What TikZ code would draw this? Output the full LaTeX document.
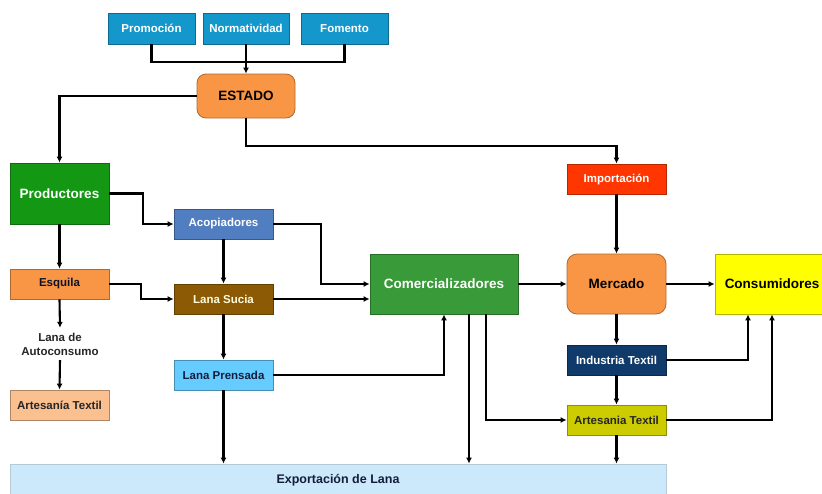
\documentclass[tikz,border=0pt]{standalone}
\usepackage{fontspec}
\setmainfont{Liberation Sans}
\usetikzlibrary{arrows.meta,calc}
\definecolor{cTop}{RGB}{20,152,204}
\definecolor{cOrange}{RGB}{248,150,70}
\definecolor{cProd}{RGB}{20,152,20}
\definecolor{cCom}{RGB}{56,154,56}
\definecolor{cAcop}{RGB}{80,126,192}
\definecolor{cImp}{RGB}{255,54,0}
\definecolor{cSucia}{RGB}{140,90,5}
\definecolor{cPren}{RGB}{102,204,255}
\definecolor{cArtL}{RGB}{250,192,144}
\definecolor{cExpo}{RGB}{204,233,251}
\definecolor{cCons}{RGB}{255,255,0}
\definecolor{cInd}{RGB}{16,58,106}
\definecolor{cArtR}{RGB}{204,204,0}
\definecolor{cNavy}{RGB}{20,30,60}
\tikzset{
  box/.style={draw=#1!70!black, fill=#1, line width=0.8pt, inner sep=0pt,
    font=\fontsize{11.5}{13}\selectfont\bfseries, align=center},
  bigfont/.style={font=\fontsize{13.5}{15}\selectfont\bfseries},
  arr/.style={line width=2.1pt, -{Latex[length=6pt,width=6pt]}},
  ln/.style={line width=2.1pt}
}
\begin{document}
\begin{tikzpicture}[x=1pt,y=-1pt]
\useasboundingbox (0,0) rectangle (822,493);
% nodes
\node[box=cTop, text=white, minimum width=87pt, minimum height=31pt] (promo) at (151.5,28.5) {Promoción};
\node[box=cTop, text=white, minimum width=86pt, minimum height=31pt] (norm) at (246,28.5) {Normatividad};
\node[box=cTop, text=white, minimum width=87pt, minimum height=31pt] (fom) at (344.5,28.5) {Fomento};
\node[box=cOrange, text=black, bigfont, rounded corners=9pt, minimum width=98pt, minimum height=44pt] (estado) at (246,96) {ESTADO};
\node[box=cProd, text=white, bigfont, minimum width=99pt, minimum height=61pt] (prod) at (59.5,193.5) {Productores};
\node[box=cAcop, text=white, minimum width=99pt, minimum height=30pt] (acop) at (223.5,224) {Acopiadores};
\node[box=cImp, text=white, minimum width=99pt, minimum height=30pt] (impo) at (616.5,179) {Importación};
\node[box=cOrange, text=cNavy!60!black, minimum width=99pt, minimum height=30pt] (esq) at (59.5,284) {Esquila};
\node[box=cSucia, text=yellow!15, minimum width=99pt, minimum height=30pt] (sucia) at (223.5,299) {Lana Sucia};
\node[box=cCom, text=white, bigfont, minimum width=148pt, minimum height=60pt] (com) at (444,284) {Comercializadores};
\node[box=cOrange, text=black, bigfont, rounded corners=10pt, minimum width=99pt, minimum height=60pt] (merc) at (616.5,284) {Mercado};
\node[box=cCons, text=black, bigfont, minimum width=114pt, minimum height=60pt] (cons) at (772,284) {Consumidores};
\node[font=\fontsize{11.5}{14}\selectfont\bfseries, text=black!85, align=center, inner sep=0pt, minimum height=32pt] (auto) at (60,344) {Lana de\\Autoconsumo};
\node[box=cArtL, text=black!85, minimum width=99pt, minimum height=30pt] (art1) at (59.5,405) {Artesanía Textil};
\node[box=cPren, text=cNavy, minimum width=99pt, minimum height=30pt] (pren) at (223.5,375) {Lana Prensada};
\node[box=cInd, text=white, minimum width=99pt, minimum height=30pt] (ind) at (616.5,360) {Industria Textil};
\node[box=cArtR, text=black!85, minimum width=99pt, minimum height=30pt] (art2) at (616.5,420) {Artesania Textil};
\node[box=cExpo, draw=cExpo!70!gray, text=cNavy, font=\fontsize{12.5}{14}\selectfont\bfseries, minimum width=656pt, minimum height=36pt] (expo) at (338,482) {};
\node[text=cNavy, font=\fontsize{12.5}{14}\selectfont\bfseries, inner sep=0pt] (expot) at (338,480) {Exportación de Lana};
% connectors
\coordinate (jn) at (246,62);
\draw[ln] (promo.south) |- (jn) -| (fom.south);
\draw[arr] (norm.south) -- (estado.north);
\draw[arr] (estado.west) -| (prod.north);
\draw[arr] (estado.south) -- ++(0,28) -| (impo.north);
\draw[arr] (prod.east) -- ++(34,0) |- (acop.west);
\draw[arr] (prod.south) -- (esq.north);
\draw[arr] (esq.east) -- ++(32,0) |- (sucia.west);
\draw[arr] (acop.south) -- (sucia.north);
\draw[arr] (acop.east) -- ++(48,0) |- (com.west);
\draw[arr] (sucia.east) -- (sucia.east -| com.west);
\draw[arr] (esq.south) -- (auto.north);
\draw[arr] (auto.south) -- (art1.north);
\draw[arr] (sucia.south) -- (pren.north);
\draw[arr] (pren.east) -| (com.south);
\draw[arr] (pren.south) -- (pren.south |- expo.north);
\draw[arr] ([xshift=25pt]com.south) -- ([xshift=25pt]com.south |- expo.north);
\draw[arr] ([xshift=42pt]com.south) |- (art2.west);
\draw[arr] (com.east) -- (merc.west);
\draw[arr] (impo.south) -- (merc.north);
\draw[arr] (merc.east) -- (cons.west);
\draw[arr] (merc.south) -- (ind.north);
\draw[arr] (ind.east) -| ([xshift=-24pt]cons.south);
\draw[arr] (ind.south) -- (art2.north);
\draw[arr] (art2.east) -| (cons.south);
\draw[arr] (art2.south) -- (art2.south |- expo.north);
\end{tikzpicture}
\end{document}
